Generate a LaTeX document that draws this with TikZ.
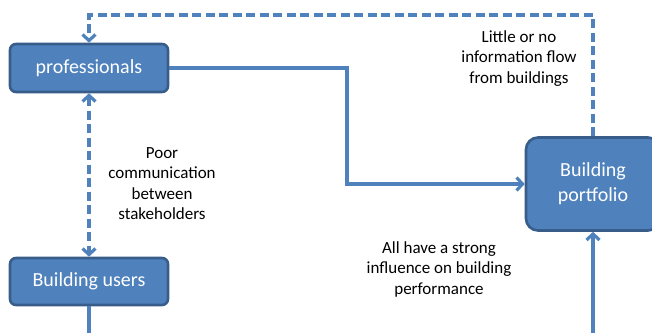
\documentclass[tikz,border=0pt]{standalone}
\usepackage{fontspec}
\setmainfont{Carlito}
\usetikzlibrary{arrows.meta}
\definecolor{boxblue}{RGB}{79,129,189}
\definecolor{boxedge}{RGB}{56,93,138}

\begin{document}
\begin{tikzpicture}[x=1pt,y=-1pt,
   box/.style={draw=boxedge,fill=boxblue,line width=2.6pt,rounded corners=6pt,
     text=white,font=\fontsize{20}{25}\selectfont,align=center,inner sep=0pt},
   note/.style={align=center,font=\fontsize{17}{20.5}\selectfont,inner sep=0pt},
   link/.style={draw=boxblue,line width=3.2pt},
   tip/.tip={Straight Barb[length=6pt,width=13pt,line width=3.2pt]},
   flow/.style={link,-tip},
   dflow/.style={link,dash pattern=on 9pt off 4.5pt,-tip}]
   \useasboundingbox (0,0) rectangle (652,332);
   % boxes
   \node[box,minimum width=158pt,minimum height=48pt] (prof) at (89,68) {professionals};
   \node[box,minimum width=158pt,minimum height=47pt] (users) at (89,281.5) {Building users};
   \node[box,minimum width=134pt,minimum height=93pt,rounded corners=12pt] (port) at (593,184) {Building\\portfolio};
   \coordinate (bendA) at (347,184);
   \coordinate (topleft) at (89,15);
   \coordinate (usersend) at (89,340);
   \coordinate (portend) at (593,340);
   % connectors
   \draw[flow] (prof.east) -| (bendA) -- (port.west);
   \draw[dflow] (port.north) |- (topleft) -- (prof.north);
   \draw[dflow,tip-tip] (prof.south) -- (users.north);
   \draw[link] (users.south) -- (usersend);
   \draw[flow] (portend) -- (port.south);
   % labels
   \node[note] (poor) at (162,183.5) {Poor\\communication\\between\\stakeholders};
   \node[note] (little) at (519,58.5) {Little or no\\information flow\\from buildings};
   \node[note] (allhave) at (439,269) {All have a strong\\influence on building\\performance};
\end{tikzpicture}
\end{document}
